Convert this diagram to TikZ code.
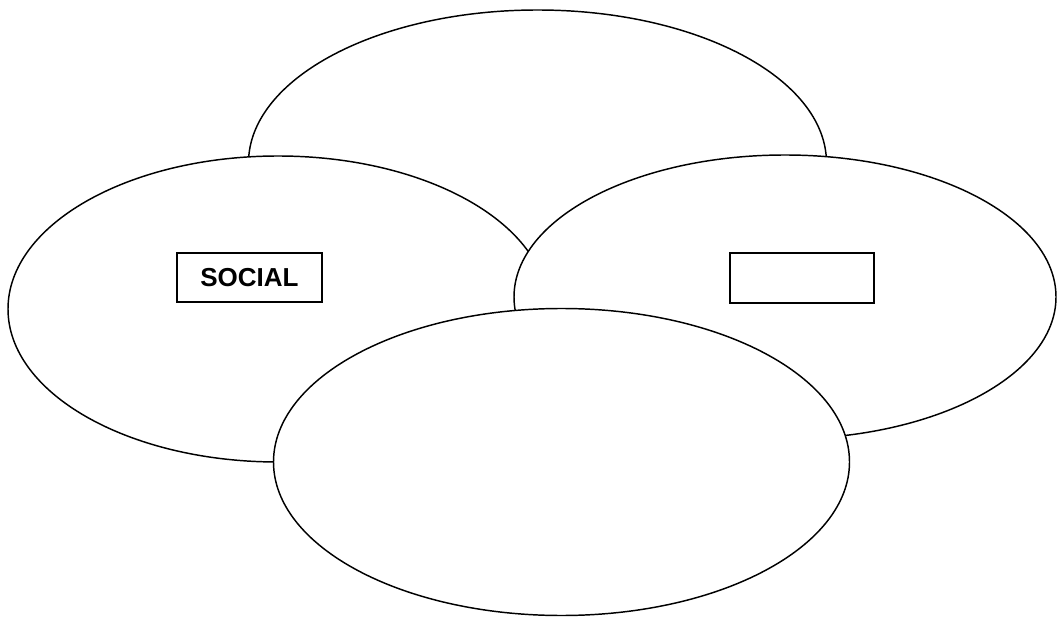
\documentclass[tikz,border=0pt]{standalone}
\usepackage{fontspec}
\setmainfont{Liberation Sans}
\usetikzlibrary{shapes.geometric}
\tikzset{
  oval/.style={ellipse, draw=black, fill=white, line width=1.1pt, inner sep=0pt},
  labelbox/.style={rectangle, draw=black, fill=white, line width=1.1pt, inner sep=0pt,
    font=\fontsize{19.5}{23}\selectfont\bfseries}
}
\begin{document}
\begin{tikzpicture}[x=0.75pt,y=-0.75pt]
\useasboundingbox (0,0) rectangle (1057,620);
\node[oval, minimum width=433.5pt, minimum height=229.5pt] (top) at (537.5,163) {};
\node[oval, minimum width=405pt, minimum height=229.5pt] (left) at (278,309) {};
\node[oval, minimum width=406.5pt, minimum height=213pt] (right) at (785,297) {};
\node[oval, minimum width=432pt, minimum height=230.25pt] (bottom) at (561.5,462) {};
\node[labelbox, minimum width=108.75pt, minimum height=36.75pt] (social) at (249.5,277.5) {SOCIAL};
\node[labelbox, minimum width=108pt, minimum height=37.5pt] (blank) at (802,278) {};
\end{tikzpicture}
\end{document}
